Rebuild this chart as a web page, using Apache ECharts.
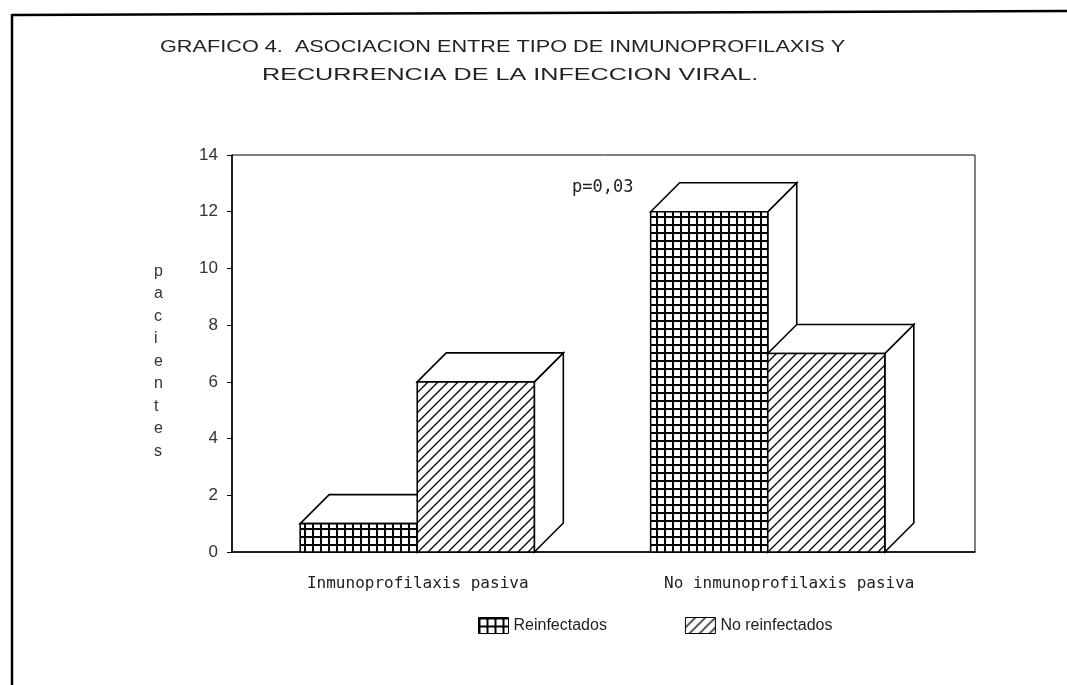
<!DOCTYPE html>
<html><head><meta charset="utf-8">
<script src="https://cdn.jsdelivr.net/npm/echarts@6/dist/echarts.min.js"></script>
<style>html,body{margin:0;padding:0;background:#fff}#c{width:1067px;height:685px}</style>
</head><body><div id="c"></div>
<script>
// ---- data ----
const categories = ['Inmunoprofilaxis pasiva', 'No inmunoprofilaxis pasiva'];
const seriesNames = ['Reinfectados', 'No reinfectados'];
const reinfectados = [1, 12];
const noReinfectados = [6, 7];
const yMin = 0, yMax = 14, yInterval = 2;
const titleLine1 = 'GRAFICO 4.  ASOCIACION ENTRE TIPO DE INMUNOPROFILAXIS Y';
const titleLine2 = 'RECURRENCIA DE LA INFECCION VIRAL.';
const yName = 'pacientes';
const pNote = 'p=0,03';

// ---- patterns ----
function gridCanvas() {
  const s = 8, c = document.createElement('canvas'); c.width = s; c.height = s;
  const g = c.getContext('2d'); g.fillStyle = '#fff'; g.fillRect(0, 0, s, s);
  g.fillStyle = '#000'; g.fillRect(0, 0, s, 2); g.fillRect(0, 0, 2, s);
  return c;
}
function hatchCanvas() {
  const s = 10, c = document.createElement('canvas'); c.width = s; c.height = s;
  const g = c.getContext('2d'); g.fillStyle = '#fff'; g.fillRect(0, 0, s, s);
  g.strokeStyle = '#000'; g.lineWidth = 1.3; g.beginPath();
  g.moveTo(0, s); g.lineTo(s, 0);
  g.moveTo(-2, 2); g.lineTo(2, -2);
  g.moveTo(s - 2, s + 2); g.lineTo(s + 2, s - 2);
  g.stroke();
  return c;
}
const patGrid = { image: gridCanvas(), repeat: 'repeat' };
const patHatch = { image: hatchCanvas(), repeat: 'repeat' };
const FONT = 'Liberation Sans';
const MONO = 'DejaVu Sans Mono';
const DEPTH = 29;

function makeRender(side, pattern) {
  return function (params, api) {
    const ci = api.value(0), v = api.value(1);
    const band = api.size([1, 0])[0];
    const w = band * 0.334;
    const top = api.coord([ci, v]);
    const base = api.coord([ci, 0]);
    const x0 = side === 0 ? top[0] - w : top[0];
    const x1 = x0 + w, yt = top[1], yb = base[1], d = DEPTH;
    const st = { fill: '#fff', stroke: '#000', lineWidth: 1.6 };
    return {
      type: 'group', children: [
        { type: 'polygon', shape: { points: [[x1, yb], [x1 + d, yb - d], [x1 + d, yt - d], [x1, yt]] }, style: st },
        { type: 'polygon', shape: { points: [[x0, yt], [x0 + d, yt - d], [x1 + d, yt - d], [x1, yt]] }, style: st },
        { type: 'rect', shape: { x: x0, y: yt, width: w, height: yb - yt }, style: { fill: pattern, stroke: '#000', lineWidth: 1.6 } }
      ]
    };
  };
}

const chart = echarts.init(document.getElementById('c'), null, { renderer: 'canvas' });
chart.setOption({
  backgroundColor: '#fff',
  animation: false,
  textStyle: { fontFamily: FONT },
  grid: [
    { left: 232, top: 155, width: 743, height: 397, show: true, borderColor: '#000', borderWidth: 1, backgroundColor: 'transparent' },
    { left: 242, top: 155, width: 701, height: 397 }
  ],
  xAxis: [
    { type: 'category', gridIndex: 0, data: categories,
      axisLine: { lineStyle: { color: '#000', width: 1.5 } },
      axisTick: { alignWithLabel: true, length: 5, lineStyle: { color: '#000' } },
      axisLabel: { color: '#222', fontSize: 16, margin: 24, fontFamily: MONO } },
    { type: 'category', gridIndex: 1, data: categories, show: false }
  ],
  yAxis: [
    { type: 'value', gridIndex: 0, min: yMin, max: yMax, interval: yInterval,
      splitLine: { show: false },
      axisLine: { show: true, lineStyle: { color: '#000', width: 1.5 } },
      axisTick: { show: true, length: 5, lineStyle: { color: '#000' } },
      axisLabel: { color: '#333', fontSize: 17, margin: 14, fontFamily: FONT } },
    { type: 'value', gridIndex: 1, min: yMin, max: yMax, interval: yInterval, show: false }
  ],
  legend: {
    left: 473, top: 612, itemWidth: 30, itemHeight: 16, itemGap: 78,
    textStyle: { fontSize: 16, color: '#222', fontFamily: FONT },
    data: [
      { name: seriesNames[0], icon: 'rect', itemStyle: { color: patGrid, borderColor: '#000', borderWidth: 1 } },
      { name: seriesNames[1], icon: 'rect', itemStyle: { color: patHatch, borderColor: '#000', borderWidth: 1 } }
    ],
    selectedMode: false
  },
  series: [
    { type: 'custom', name: seriesNames[0], xAxisIndex: 1, yAxisIndex: 1,
      itemStyle: { color: patGrid },
      renderItem: makeRender(0, patGrid), data: reinfectados.map((v, i) => [i, v]) },
    { type: 'custom', name: seriesNames[1], xAxisIndex: 1, yAxisIndex: 1,
      itemStyle: { color: patHatch },
      renderItem: makeRender(1, patHatch), data: noReinfectados.map((v, i) => [i, v]) }
  ],
  graphic: [
    { type: 'line', shape: { x1: 12, y1: 15, x2: 1067, y2: 11 }, style: { stroke: '#000', lineWidth: 2.5 } },
    { type: 'line', shape: { x1: 12, y1: 14, x2: 12, y2: 685 }, style: { stroke: '#000', lineWidth: 2.5 } },
    { type: 'text', x: 160, y: 39, scaleX: 1.275, style: { text: titleLine1, font: '17px ' + FONT, fill: '#222' } },
    { type: 'text', x: 262, y: 67, scaleX: 1.48, style: { text: titleLine2, font: '17px ' + FONT, fill: '#222' } },
    { type: 'text', left: 154, top: 260, style: { text: yName.split('').join('\n'), font: '16px ' + FONT, fill: '#333', lineHeight: 22.5, align: 'center' } },
    { type: 'text', left: 572, top: 179, style: { text: pNote, font: '17px ' + MONO, fill: '#222' } }
  ]
});
</script>
</body></html>
